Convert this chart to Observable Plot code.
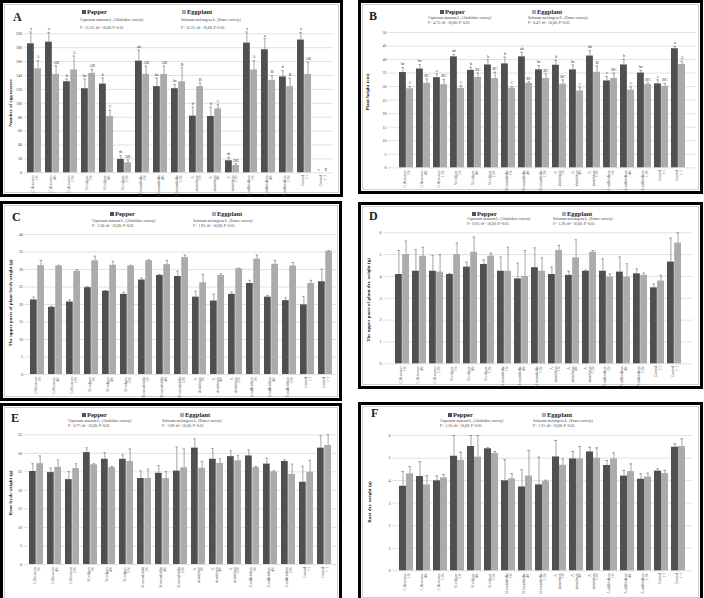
<!DOCTYPE html>
<html><head><meta charset="utf-8">
<script src="https://cdn.jsdelivr.net/npm/d3@7"></script>
<script src="https://cdn.jsdelivr.net/npm/@observablehq/plot@0.6"></script>
<style>
body{margin:0;background:#fff;}
#root{position:relative;width:704px;height:598px;overflow:hidden;font-family:"Liberation Serif","DejaVu Serif",serif;color:#222;}
.panel{position:absolute;border:3px solid #000;box-sizing:border-box;background:#fff;}
.inner{position:absolute;left:1px;top:1px;right:1px;bottom:1px;border:1px solid #cfcfcf;}
.abs{position:absolute;white-space:nowrap;line-height:1;}
.sq{display:inline-block;width:4px;height:4px;margin-right:1px;vertical-align:0px;}
.ytitle{position:absolute;white-space:nowrap;font-weight:bold;font-size:5px;transform:translate(-50%,-50%) rotate(-90deg);line-height:1;}
</style></head>
<body><div id="root"></div>
<script>
// ---- categories ----
const groups = ["C.flexuosus\n1%","C.flexuosus\n4%","C.flexuosus\n12%","M.vulgare\n1%","M.vulgare\n4%","M.vulgare\n12%",
  "M.rotundifolia\n1%","M.rotundifolia\n4%","M.rotundifolia\n12%","A.\nabsinthium\n1%","A.\nabsinthium\n4%","A.\nabsinthium\n12%",
  "A.millefolium\n1%","A.millefolium\n4%","A.millefolium\n12%","Control\n(-)","Control\n(+)"];
const seriesNames = ["Pepper","Eggplant"];
const speciesNames = ["Capsicum annuum L. (Ahaltshire variety)","Solanum melongena L. (Ermer variety)"];

// ---- A: number of egg masses ----
const eggMassPepper = [185.6,188,131,121,127.6,19.2,160.7,124,121,81.5,81,17.3,186.6,177,138,191,0];
const eggMassEggplant = [149.6,141.5,148,143,81,14.4,141.5,141.5,131,124,92,10.6,148,133,124,141.5,0];
const eggMassPepperSE = [17,14,4,14,9,5.5,16,12.5,6,13,13.5,5,16,16,9,11,0];
const eggMassEggplantSE = [12,12.5,20,6,9,4,12,12,20,5.5,6,2.5,13.5,7,12,17.5,0];
const eggMassPepperLetters = ["a","a","b","bc","b","de","ab","bc","bc","d","d","de","a","a","b","a","e"];
const eggMassEggplantLetters = ["A","AB","A","AB","C","DE","AB","AB","B","B","C","DE","A","B","B","AB","E"];
const ticksA = [0,20,40,60,80,100,120,140,160,180,200];

// ---- B: plant height ----
const heightPepper = [35.2,36.5,33.3,41,36,38,38.4,41,36.2,37.9,36.2,41.3,32.1,38,35,31,44];
const heightEggplant = [29.2,31.2,30.7,29.3,33.4,33,29.4,31.2,33,30.9,28.4,35.3,33,28.7,30.8,30.1,38.2];
const heightPepperSE = [1.9,1.7,1.4,0.9,1.2,1.9,2.5,1.7,1.6,1.8,1.8,2,1.6,2.1,1,1.5,0.8];
const heightEggplantSE = [0.8,1.7,1.9,1.0,1.6,2.3,0.6,0.6,1.7,1.6,1.2,2.3,2,1.2,0.6,1.1,1.2];
const heightPepperLetters = ["bc","bc","c","ab","b","b","b","ab","bc","b","bc","ab","c","b","bc","c","a"];
const heightEggplantLetters = ["C","BC","BC","C","BC","BC","C","BC","BC","BC","C","B","BC","C","BC","BC","A"];
const ticksB = [0,5,10,15,20,25,30,35,40,45,50];

// ---- C: upper parts fresh weight ----
const freshPepper = [21.3,19.2,20.7,24.8,23.8,22.9,27,28.3,28,22.1,21,22.9,26,22.1,21.1,19.9,26.5];
const freshEggplant = [31.1,31,29.5,32.5,31.2,31,32.5,31.4,33.4,26.2,28.3,30.2,33,31.5,31,26,35.2];
const freshPepperSE = [0.8,0.3,0.6,0.3,0.2,0.6,0.6,0.3,1.5,1.7,2,0.6,0.9,0.5,0.8,2.4,3.6];
const freshEggplantSE = [1.5,0.2,0.5,1.3,1.1,0.2,0.3,1.2,0.7,2.4,0.5,0.2,1.1,1.1,1.0,0.9,0.2];
const ticksC = [0,5,10,15,20,25,30,35,40];

// ---- D: upper parts dry weight ----
const dryPepper = [4.09,4.24,4.24,4.09,4.43,4.55,4.24,3.89,4.4,4.09,4.05,4.24,4.24,4.2,4.12,3.48,4.66];
const dryEggplant = [5.0,4.92,4.2,5.0,5.11,4.93,4.24,4.0,4.24,5.19,4.85,5.11,3.97,3.97,4.05,3.79,5.53];
const dryPepperSE = [1.1,0.98,0.72,0.05,0.23,0.21,0.65,0.72,0.91,0.34,0.19,0.05,0.57,0.69,0.23,0.18,1.1];
const dryEggplantSE = [0.62,0.42,0.8,0.53,0.69,0.14,1.1,1.19,0.61,0.23,0.83,0.08,0.15,0.61,0.1,0.26,0.47];
const ticksD = [0,1,2,3,4,5,6];

// ---- E: root fresh weight ----
const rootFreshPepper = [25.1,24.8,22.9,30.2,28.4,28.4,23.2,24.6,25.2,31.4,28.4,29.1,29.3,27.1,27.8,22.2,31.4];
const rootFreshEggplant = [27.2,26.2,25.9,26.9,26.2,27.8,23.2,23.2,26.1,26.0,27.3,28.0,26.2,25.0,24.3,24.9,32.1];
const rootFreshPepperSE = [2.1,1.2,2.2,1.3,1.8,1.2,2.1,2.1,6.5,2.5,2.9,1.6,1.6,1.6,0.5,4.3,3.4];
const rootFreshEggplantSE = [2.1,2.0,1.3,0.3,0.3,3.4,2.5,1.9,5.1,1.8,1.2,1.4,0.3,0.3,2.8,3.2,2.9];
const ticksE = [0,5,10,15,20,25,30,35];

// ---- F: root dry weight ----
const rootDryPepper = [3.75,4.18,3.99,5.08,5.51,5.41,3.99,3.72,3.81,5.05,4.96,5.27,4.67,4.2,4.06,4.42,5.48];
const rootDryEggplant = [4.3,3.81,4.12,4.9,5.04,5.2,4.08,4.2,3.97,4.68,4.96,4.99,4.96,4.4,4.16,4.31,5.51];
const rootDryPepperSE = [0.65,0.66,0.22,0.92,0.49,0.05,0.94,0.76,1.23,0.73,0.33,0.21,0.22,0.25,0.24,0.1,0.15];
const rootDryEggplantSE = [0.32,0.41,0.15,0.36,0.96,0.09,0.23,1.13,0.05,0.28,0.55,0.46,0.27,0.34,0.17,0.14,0.34];
const ticksF = [0,1,2,3,4,5,6];

// ---- statistics lines ----
const statsPepper = ["F= 51.52; df= 16,68; P<0.05","F= 4.72; df= 16,68; P<0.05","F= 1.38; df= 16,68; P>0.05","F= 0.91; df= 16,68; P>0.05","F= 0.77; df= 16,68; P>0.05","F= 1.10; df= 16,68; P>0.05"];
const statsEggplant = ["F= 52.21; df= 16,68; P<0.05","F= 6.47; df= 16,68; P<0.05","F= 1.92; df= 16,68; P>0.05","F= 1.28; df= 16,68; P>0.05","F= 1.09; df= 16,68; P>0.05","F= 1.31; df= 16,68; P>0.05"];
const yTitles = ["Number of egg masses","Plant height (cm)","The upper parts of plant fresh weight (g)","The upper parts of plant dry weight (g)","Root fresh weight (g)","Root dry weight (g)"];
const panelLetters = ["A","B","C","D","E","F"];

const PEPPER = "#505050", EGGPLANT = "#ababab";

// layout (global pixel coordinates)
const layout = [
  {box:[0,0,343,197], xr:[23.7,333.3], yr:[33.3,172.3], letter:[13,11], tc:[10,103],
   leg:{px:82,ex:182,y:9,plx:80,elx:181,l1:19,l2:27}},
  {box:[358,0,345,194], xr:[388.1,695.3], yr:[32,167.3], letter:[369,10], tc:[367,92],
   leg:{px:440,ex:532,y:9,plx:428,elx:528,l1:17,l2:22}},
  {box:[0,201,342,200], xr:[24.7,336.9], yr:[234,374], letter:[12,211], tc:[10,303],
   leg:{px:110,ex:212,y:211,plx:92,elx:193,l1:220,l2:225}},
  {box:[358,202,345,187], xr:[383.1,691.9], yr:[232.3,363.3], letter:[369,210], tc:[368,300],
   leg:{px:472,ex:562,y:211,plx:467,elx:553,l1:218,l2:223}},
  {box:[0,403,342,200], xr:[23.7,337], yr:[434.3,564], letter:[11,412], tc:[10,493],
   leg:{px:82,ex:180,y:412,plx:68,elx:162,l1:420,l2:425}},
  {box:[358,402,345,200], xr:[392.2,691.8], yr:[435,570.3], letter:[371,407], tc:[369,502],
   leg:{px:448,ex:542,y:412,plx:440,elx:533,l1:420,l2:425}}
];

const series = [
  {p:eggMassPepper, e:eggMassEggplant, pe:eggMassPepperSE, ee:eggMassEggplantSE, pl:eggMassPepperLetters, el:eggMassEggplantLetters, ticks:ticksA},
  {p:heightPepper, e:heightEggplant, pe:heightPepperSE, ee:heightEggplantSE, pl:heightPepperLetters, el:heightEggplantLetters, ticks:ticksB},
  {p:freshPepper, e:freshEggplant, pe:freshPepperSE, ee:freshEggplantSE, ticks:ticksC},
  {p:dryPepper, e:dryEggplant, pe:dryPepperSE, ee:dryEggplantSE, ticks:ticksD},
  {p:rootFreshPepper, e:rootFreshEggplant, pe:rootFreshPepperSE, ee:rootFreshEggplantSE, ticks:ticksE},
  {p:rootDryPepper, e:rootDryEggplant, pe:rootDryPepperSE, ee:rootDryEggplantSE, ticks:ticksF}
];

const root = document.getElementById("root");
function addDiv(cls, css, html) {
  const d = document.createElement("div");
  d.className = cls;
  d.style.cssText = css;
  d.innerHTML = html;
  root.appendChild(d);
  return d;
}

layout.forEach((L, k) => {
  const S = series[k];
  const [bl, bt, bw_, bh] = L.box;
  const box = addDiv("panel", `left:${bl}px;top:${bt}px;width:${bw_}px;height:${bh}px;`, `<div class="inner"></div>`);
  const iL = bl + 3, iT = bt + 3, iW = bw_ - 6, iH = bh - 6;
  const [x0, x1] = L.xr, [yT, yB] = L.yr;
  const step = (x1 - x0) / (groups.length + 0.2);
  const band = step * 0.8;
  const cap = 2.6;
  const rows = groups.map((g, i) => ({
    g, p: S.p[i], e: S.e[i], pe: S.pe[i], ee: S.ee[i],
    pl: S.pl ? S.pl[i] : "", el: S.el ? S.el[i] : ""
  }));
  const marks = [
    Plot.ruleY(S.ticks, {stroke: "#d4d4d4", strokeWidth: 0.7}),
    Plot.barY(rows, {x: "g", y: "p", fill: PEPPER, insetRight: band / 2}),
    Plot.barY(rows, {x: "g", y: "e", fill: EGGPLANT, insetLeft: band / 2}),
    Plot.ruleX(rows.filter(d => d.pe > 0), {x: "g", y1: "p", y2: d => d.p + d.pe, dx: -band / 4, stroke: "#6a6a6a", strokeWidth: 0.6}),
    Plot.ruleX(rows.filter(d => d.ee > 0), {x: "g", y1: "e", y2: d => d.e + d.ee, dx: band / 4, stroke: "#6a6a6a", strokeWidth: 0.6}),
    Plot.tickY(rows.filter(d => d.pe > 0), {x: "g", y: d => d.p + d.pe, dx: -band / 4, insetLeft: (band - cap) / 2, insetRight: (band - cap) / 2, stroke: "#6a6a6a", strokeWidth: 0.6}),
    Plot.tickY(rows.filter(d => d.ee > 0), {x: "g", y: d => d.e + d.ee, dx: band / 4, insetLeft: (band - cap) / 2, insetRight: (band - cap) / 2, stroke: "#6a6a6a", strokeWidth: 0.6}),
    Plot.axisY(S.ticks, {tickSize: 0, tickPadding: 2, fontSize: 4.2, fill: "#444", label: null}),
    Plot.axisX({tickSize: 0, tickRotate: -90, tickPadding: 2.5, fontSize: 3.6, fill: "#555", label: null, lineHeight: 1.05})
  ];
  if (S.pl) {
    marks.push(Plot.text(rows, {x: "g", y: d => d.p + d.pe, text: "pl", dx: -band / 4, dy: -3.5, fontSize: 4.2, fill: "#333"}));
    marks.push(Plot.text(rows, {x: "g", y: d => d.e + d.ee, text: "el", dx: band / 4, dy: -3.5, fontSize: 4.2, fill: "#333"}));
  }
  const svg = Plot.plot({
    width: iW, height: iH,
    marginLeft: x0 - iL, marginRight: iL + iW - x1,
    marginTop: yT - iT, marginBottom: iT + iH - yB,
    style: {fontFamily: "Liberation Serif, serif", background: "transparent", overflow: "visible", position: "absolute", left: "0px", top: "0px"},
    x: {type: "band", domain: groups, padding: 0.2, align: 0.5},
    y: {domain: [S.ticks[0], S.ticks[S.ticks.length - 1]]},
    marks
  });
  box.appendChild(svg);

  // panel letter
  addDiv("abs", `left:${L.letter[0]}px;top:${L.letter[1]}px;font-size:12px;font-weight:bold;`, panelLetters[k]);
  // y title
  addDiv("ytitle", `left:${L.tc[0]}px;top:${L.tc[1]}px;`, yTitles[k]);
  // legend
  const g = L.leg;
  addDiv("abs", `left:${g.px}px;top:${g.y}px;font-size:6.5px;font-weight:bold;`, `<span class="sq" style="background:${PEPPER}"></span>${seriesNames[0]}`);
  addDiv("abs", `left:${g.ex}px;top:${g.y}px;font-size:6.5px;font-weight:bold;`, `<span class="sq" style="background:${EGGPLANT}"></span>${seriesNames[1]}`);
  addDiv("abs", `left:${g.plx}px;top:${g.l1}px;font-size:3.8px;color:#444;`, speciesNames[0]);
  addDiv("abs", `left:${g.plx}px;top:${g.l2}px;font-size:3.8px;color:#444;`, statsPepper[k]);
  addDiv("abs", `left:${g.elx}px;top:${g.l1}px;font-size:3.8px;color:#444;`, speciesNames[1]);
  addDiv("abs", `left:${g.elx}px;top:${g.l2}px;font-size:3.8px;color:#444;`, statsEggplant[k]);
});
</script>
</body></html>
